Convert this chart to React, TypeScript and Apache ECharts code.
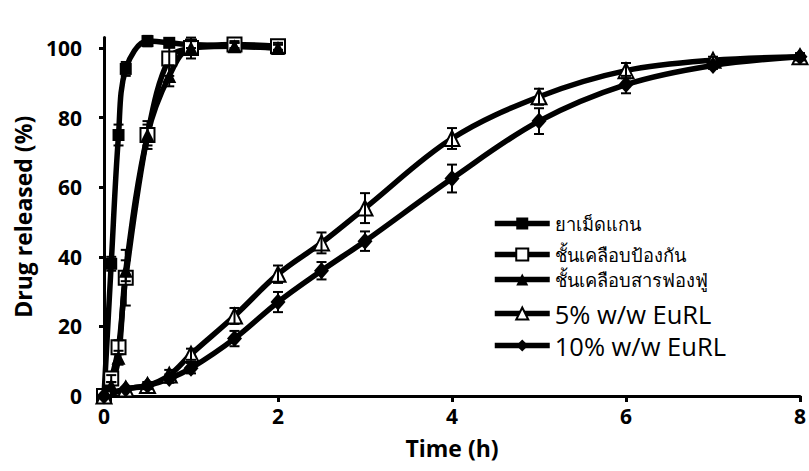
import React, { useEffect, useRef } from "react";
import * as echarts from "echarts";

const seriesNames = [
  "ยาเม็ดแกน",
  "ชั้นเคลือบป้องกัน",
  "ชั้นเคลือบสารฟองฟู่",
  "5% w/w EuRL",
  "10% w/w EuRL",
];

// early-release formulations (h)
const timeEarly = [0, 0.083, 0.167, 0.25, 0.5, 0.75, 1, 1.5, 2];
const coreTablet = [0, 38, 75, 94, 102, 101.5, 101, 100.5, 100];
const coreTabletErr = [0, 2, 3, 2, 1.5, 1, 1, 1, 1];
const protectCoat = [0, 5, 14, 34, 75, 97, 100, 101, 100.5];
const protectCoatErr = [0, 1, 2, 8, 4, 5, 3, 1, 1];
const effervCoat = [0, 3, 11, 36, 75, 92, 100, 100.5, 100];
const effervCoatErr = [0, 1, 2, 3, 3, 3, 2, 1, 1];

// EuRL formulations (h)
const timeLate = [0, 0.25, 0.5, 0.75, 1, 1.5, 2, 2.5, 3, 4, 5, 6, 7, 8];
const eurl5 = [0, 2, 3, 6, 12, 23, 35, 44, 54, 74, 86, 93.5, 96.5, 97.5];
const eurl5Err = [0, 0.5, 1, 1.5, 1.6, 2.3, 2.5, 3, 4.3, 3, 2.3, 2.2, 1, 1];
const eurl10 = [0, 2, 3, 5, 8, 16.5, 27, 36, 44.5, 62.5, 79, 89.5, 95, 97.5];
const eurl10Err = [0, 0.5, 1, 1.2, 1.5, 2.2, 2.9, 2.5, 2.8, 4, 3.7, 2.5, 1, 1];

const xTicks = [0, 2, 4, 6, 8];
const yTicks = [0, 20, 40, 60, 80, 100];

const FONT = "'Open Sans', 'Noto Sans', sans-serif";
const legendRowTops = [214.5, 245.5, 270.5, 300.5, 332.5];

const pairs = (t: number[], v: number[]) => t.map((x, i) => [x, v[i]]);
const errData = (t: number[], v: number[], e: number[]) =>
  t.map((x, i) => [x, v[i] - e[i], v[i] + e[i]]);

function errorSeries(data: number[][]) {
  return {
    type: "custom",
    silent: true,
    z: 4,
    data,
    encode: { x: 0, y: [1, 2] },
    renderItem: (params: any, api: any) => {
      const x = api.value(0);
      const lo = api.value(1);
      const hi = api.value(2);
      if (hi - lo < 0.01) return { type: "group", children: [] };
      const pLo = api.coord([x, lo]);
      const pHi = api.coord([x, hi]);
      const w = 5;
      const style = { stroke: "#000", lineWidth: 2 };
      return {
        type: "group",
        children: [
          { type: "line", shape: { x1: pLo[0], y1: pLo[1], x2: pHi[0], y2: pHi[1] }, style },
          { type: "line", shape: { x1: pHi[0] - w, y1: pHi[1], x2: pHi[0] + w, y2: pHi[1] }, style },
          { type: "line", shape: { x1: pLo[0] - w, y1: pLo[1], x2: pLo[0] + w, y2: pLo[1] }, style },
        ],
      };
    },
  };
}

function lineSeries(name: string, data: number[][], symbol: string, size: any, open: boolean) {
  return {
    name,
    type: "line",
    data,
    smooth: 0.35,
    symbol,
    symbolSize: size,
    showAllSymbol: true,
    z: 3,
    lineStyle: { color: "#000", width: 5.5 },
    itemStyle: open
      ? { color: "#fff", borderColor: "#000", borderWidth: 2 }
      : { color: "#000", borderColor: "#000", borderWidth: 0 },
  };
}

function legendRow(i: number) {
  const thai = i < 3;
  return {
    orient: "vertical",
    left: 492,
    top: legendRowTops[i],
    padding: 0,
    itemWidth: 55,
    itemHeight: 15,
    textStyle: {
      fontFamily: FONT,
      fontSize: thai ? 18.3 : 25.5,
      lineHeight: 15,
      color: "#000",
    },
    lineStyle: { width: 5.5 },
    data: [seriesNames[i]],
  };
}

export default function App() {
  const ref = useRef<HTMLDivElement>(null);
  useEffect(() => {
    if (!ref.current) return;
    const chart = echarts.init(ref.current, undefined, { renderer: "svg" });
    chart.setOption({
      animation: false,
      backgroundColor: "#fff",
      grid: { left: 104, right: 9, top: 37.6, bottom: 75 },
      legend: seriesNames.map((_, i) => legendRow(i)),
      xAxis: {
        type: "value",
        min: 0,
        max: 8,
        interval: 2,
        name: "Time (h)",
        nameLocation: "middle",
        nameGap: 40,
        nameTextStyle: { fontFamily: FONT, fontSize: 23, fontWeight: "bold", color: "#000" },
        axisLine: { show: true, lineStyle: { color: "#000", width: 3 } },
        axisTick: { show: true, length: 6, lineStyle: { color: "#000", width: 3 }, customValues: xTicks },
        axisLabel: {
          fontFamily: FONT,
          fontSize: 21,
          fontWeight: "bold",
          color: "#000",
          margin: 9,
          customValues: xTicks,
        },
        splitLine: { show: false },
      },
      yAxis: {
        type: "value",
        min: 0,
        max: 103,
        interval: 20,
        name: "Drug released (%)",
        nameLocation: "middle",
        nameGap: 70,
        nameTextStyle: { fontFamily: FONT, fontSize: 23, fontWeight: "bold", color: "#000" },
        axisLine: { show: true, lineStyle: { color: "#000", width: 3 } },
        axisTick: { show: true, length: 5, lineStyle: { color: "#000", width: 3 }, customValues: yTicks },
        axisLabel: {
          fontFamily: FONT,
          fontSize: 21,
          fontWeight: "bold",
          color: "#000",
          margin: 22,
          customValues: yTicks,
          formatter: (v: number) => (v % 20 === 0 ? String(v) : ""),
        },
        splitLine: { show: false },
      },
      series: [
        lineSeries(seriesNames[0], pairs(timeEarly, coreTablet), "rect", 12, false),
        lineSeries(seriesNames[1], pairs(timeEarly, protectCoat), "rect", 14, true),
        lineSeries(seriesNames[2], pairs(timeEarly, effervCoat), "triangle", 14, false),
        lineSeries(seriesNames[3], pairs(timeLate, eurl5), "triangle", 15, true),
        lineSeries(seriesNames[4], pairs(timeLate, eurl10), "diamond", [15, 17], false),
        errorSeries(errData(timeEarly, coreTablet, coreTabletErr)),
        errorSeries(errData(timeEarly, protectCoat, protectCoatErr)),
        errorSeries(errData(timeEarly, effervCoat, effervCoatErr)),
        errorSeries(errData(timeLate, eurl5, eurl5Err)),
        errorSeries(errData(timeLate, eurl10, eurl10Err)),
      ],
    });
    return () => chart.dispose();
  }, []);
  return (
    <div
      ref={ref}
      style={{ position: "fixed", left: 0, top: 0, width: 809, height: 471, background: "#fff" }}
    />
  );
}
